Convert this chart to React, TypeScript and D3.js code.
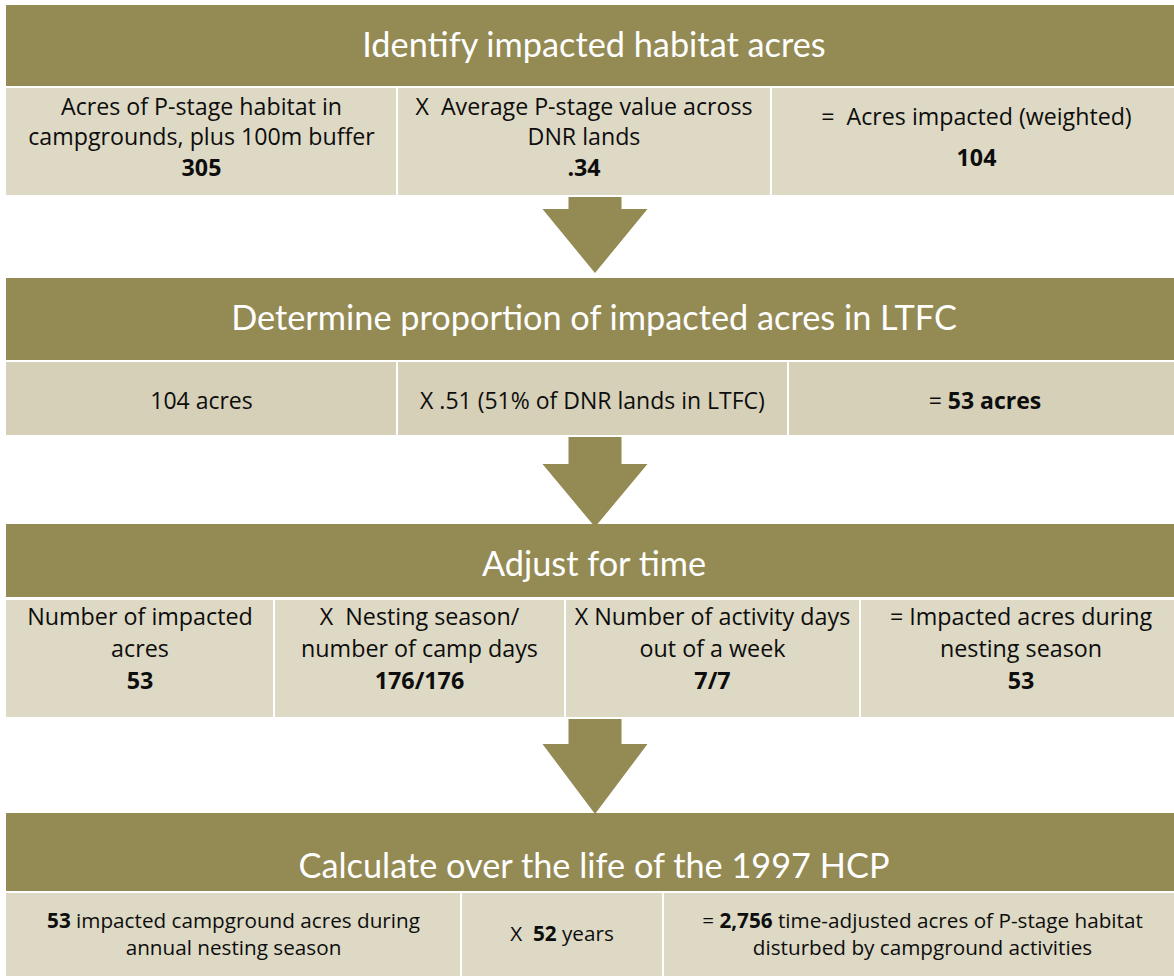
import React from 'react';
import * as d3 from 'd3';

// ---- data ----
const stepTitles = [
  'Identify impacted habitat acres',
  'Determine proportion of impacted acres in LTFC',
  'Adjust for time',
  'Calculate over the life of the 1997 HCP',
];

// ** marks bold text
const step1Labels = [
  ['Acres of P-stage habitat in', 'campgrounds, plus 100m buffer'],
  ['X  Average P-stage value across', 'DNR lands'],
  ['=  Acres impacted (weighted)'],
];
const step1Values = ['305', '.34', '104'];

const step2Labels = [
  ['104 acres'],
  ['X .51 (51% of DNR lands in LTFC)'],
  ['= **53 acres**'],
];
const step2Values = ['', '', ''];

const step3Labels = [
  ['Number of impacted', 'acres'],
  ['X  Nesting season/', 'number of camp days'],
  ['X Number of activity days', 'out of a week'],
  ['= Impacted acres during', 'nesting season'],
];
const step3Values = ['53', '176/176', '7/7', '53'];

const step4Labels = [
  ['**53** impacted campground acres during', 'annual nesting season'],
  ['X  **52** years'],
  ['= **2,756** time-adjusted acres of P-stage habitat', 'disturbed by campground activities'],
];
const step4Values = ['', '', ''];

// ---- layout ----
const W = 1174;
const H = 976;
const TITLE_FONT = "Lato, 'Open Sans', sans-serif";
const CELL_FONT = "'Open Sans', Lato, sans-serif";
const HEADER = '#948A54';
const GAP = 2;

const sections = [
  { header: [5, 86], titleY: 45, cells: [88, 195], edges: [6, 397, 771, 1182], mid: 137, lineH: 30.5, size: 23.2, fill: '#DDD9C4' },
  { header: [278, 360], titleY: 318, cells: [362, 435], edges: [6, 397, 788, 1182], mid: 401, lineH: 28, size: 23, fill: '#D5D0B7' },
  { header: [524, 597], titleY: 564, cells: [600, 717], edges: [6, 274, 565, 860, 1182], mid: 649, lineH: 32, size: 23.3, fill: '#DDD9C4' },
  { header: [813, 891], titleY: 866, cells: [893, 990], edges: [6, 461, 663, 1182], mid: 934, lineH: 27, size: 20.7, fill: '#DDD9C4' },
];

const arrows = [
  { top: 197, shoulder: 209, tip: 273 },
  { top: 437, shoulder: 464, tip: 527 },
  { top: 719, shoulder: 744, tip: 814 },
];
const arrowX = 595;
const stemHalf = 26.5;
const headHalf = 52.5;

const labelSets = [step1Labels, step2Labels, step3Labels, step4Labels];
const valueSets = [step1Values, step2Values, step3Values, step4Values];

const segments = (s: string) =>
  s.split('**').map((t, i) => ({ t, bold: i % 2 === 1 })).filter(d => d.t.length > 0);

const arrowPath = (a: { top: number; shoulder: number; tip: number }) => {
  const p = d3.path();
  p.moveTo(arrowX - stemHalf, a.top);
  p.lineTo(arrowX + stemHalf, a.top);
  p.lineTo(arrowX + stemHalf, a.shoulder);
  p.lineTo(arrowX + headHalf, a.shoulder);
  p.lineTo(arrowX, a.tip);
  p.lineTo(arrowX - headHalf, a.shoulder);
  p.lineTo(arrowX - stemHalf, a.shoulder);
  p.closePath();
  return p.toString();
};

const App = () => {
  return (
    <svg width={W} height={H} style={{ position: 'absolute', left: 0, top: 0, background: '#fff' }}>
      {sections.map((sec, si) => {
        const cells = d3.pairs(sec.edges);
        const x0 = sec.edges[0];
        const x1 = sec.edges[sec.edges.length - 1];
        return (
          <g key={si}>
            <rect x={x0} y={sec.header[0]} width={x1 - x0} height={sec.header[1] - sec.header[0]} fill={HEADER} />
            <text x={(x0 + x1) / 2} y={sec.titleY} dy="0.36em" textAnchor="middle" fill="#fff" fontSize={34.3} fontFamily={TITLE_FONT}>
              {stepTitles[si]}
            </text>
            {cells.map(([a, b], ci) => {
              const lines = labelSets[si][ci].map(l => ({ text: l, bold: false }));
              const v = valueSets[si][ci];
              if (v) lines.push({ text: v, bold: true });
              const step = lines.length === 2 && v ? sec.lineH * 1.35 : sec.lineH;
              const start = sec.mid - ((lines.length - 1) * step) / 2;
              const cx = (a + b) / 2;
              const left = ci === 0 ? a : a + GAP / 2;
              const right = ci === cells.length - 1 ? b : b - GAP / 2;
              return (
                <g key={ci}>
                  <rect x={left} y={sec.cells[0]} width={right - left} height={sec.cells[1] - sec.cells[0]} fill={sec.fill} />
                  {lines.map((ln, li) => (
                    <text key={li} x={cx} y={start + li * step} dy="0.36em" textAnchor="middle" fontSize={sec.size} fill="#0d0d0d" fontFamily={CELL_FONT} style={{ whiteSpace: 'pre' }}>
                      {segments(ln.text).map((sg, k) => (
                        <tspan key={k} fontWeight={sg.bold || ln.bold ? 700 : 400}>{sg.t}</tspan>
                      ))}
                    </text>
                  ))}
                </g>
              );
            })}
          </g>
        );
      })}
      {arrows.map((a, i) => (
        <path key={i} d={arrowPath(a)} fill={HEADER} />
      ))}
    </svg>
  );
};

export default App;
